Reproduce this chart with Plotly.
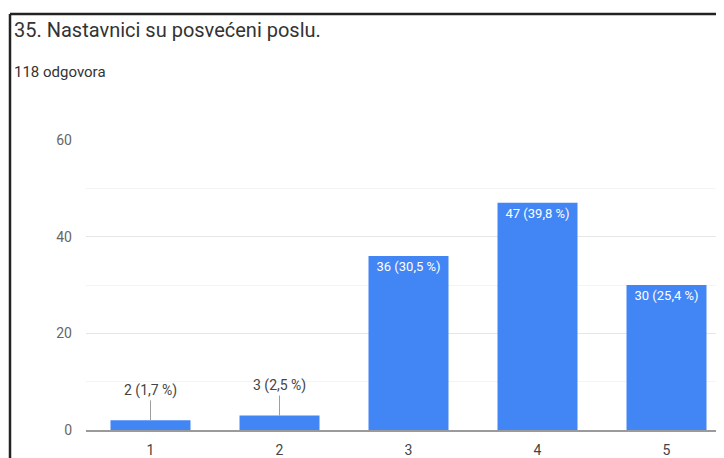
import plotly.graph_objects as go

categories = ["1", "2", "3", "4", "5"]
counts = [2, 3, 36, 47, 30]
percents = [1.7, 2.5, 30.5, 39.8, 25.4]
y_ticks = [0, 20, 40, 60]
title_text = "35. Nastavnici su posvećeni poslu."
subtitle_text = "118 odgovora"

# page has an 8px body margin; figure placed to line up with the 724x458 window
OFF = 8
W, H = 724 - OFF, 458 - OFF
ML, MR, MT, MB = 86 - OFF, 0, 140 - OFF, 28
PW, PH = W - ML - MR, H - MT - MB

def px_x(x):
    return (x - OFF - ML) / PW

def px_y(y):
    return (H - MB - (y - OFF)) / PH

FONT = "Roboto, sans-serif"

labels = [f"{c} ({str(p).replace('.', ',')} %)" for c, p in zip(counts, percents)]
big = [c >= 10 for c in counts]

fig = go.Figure()
fig.add_trace(go.Bar(
    x=categories,
    y=counts,
    marker=dict(color="#4285F4", line=dict(width=0)),
    text=[l if b else "" for l, b in zip(labels, big)],
    textposition="inside",
    insidetextanchor="end",
    textangle=0,
    textfont=dict(color="white", size=13, family=FONT),
    hoverinfo="skip",
))

annotations = []
for i, (c, l, b) in enumerate(zip(counts, labels, big)):
    if not b:
        annotations.append(dict(
            x=i, y=c, xref="x", yref="y",
            text=l, showarrow=True, arrowhead=0, arrowwidth=1,
            arrowcolor="#9e9e9e", ax=0, ay=-30, standoff=0,
            font=dict(size=14, color="#444444", family=FONT),
        ))

annotations.append(dict(
    x=px_x(12), y=px_y(30), xref="paper", yref="paper",
    xanchor="left", yanchor="middle", showarrow=False,
    text=title_text, font=dict(size=20, color="#333333", family=FONT),
))
annotations.append(dict(
    x=px_x(12), y=px_y(72), xref="paper", yref="paper",
    xanchor="left", yanchor="middle", showarrow=False,
    text=subtitle_text, font=dict(size=15, color="#333333", family=FONT),
))

shapes = [
    dict(type="line", xref="paper", yref="paper",
         x0=px_x(10), x1=px_x(730), y0=px_y(14), y1=px_y(14),
         line=dict(color="#222222", width=2.5)),
    dict(type="line", xref="paper", yref="paper",
         x0=px_x(10), x1=px_x(10), y0=px_y(14), y1=px_y(465),
         line=dict(color="#222222", width=2.5)),
]

x_right = (W - ML) / 129.0 - 0.5

fig.update_layout(
    width=W, height=H,
    margin=dict(l=ML, r=MR, t=MT, b=MB, pad=0, autoexpand=False),
    paper_bgcolor="white", plot_bgcolor="white",
    showlegend=False,
    bargap=0.38,
    annotations=annotations,
    shapes=shapes,
    font=dict(family=FONT, color="#444444"),
    xaxis=dict(
        type="category",
        range=[-0.5, x_right],
        automargin=False,
        showgrid=False, zeroline=False,
        showline=True, linecolor="#9a9a9a", linewidth=2,
        ticks="", tickfont=dict(size=14, color="#444444", family=FONT),
        ticklabelstandoff=6,
        fixedrange=True,
    ),
    yaxis=dict(
        range=[0, 60],
        tickvals=y_ticks,
        automargin=False,
        showgrid=True, gridcolor="#e6e6e6", gridwidth=1,
        zeroline=False, showline=False,
        ticks="", tickfont=dict(size=14, color="#666666", family=FONT),
        ticklabelstandoff=13,
        minor=dict(dtick=10, showgrid=True, gridcolor="#f4f4f4", gridwidth=1),
        fixedrange=True,
    ),
)

fig.write_html("out.html")
